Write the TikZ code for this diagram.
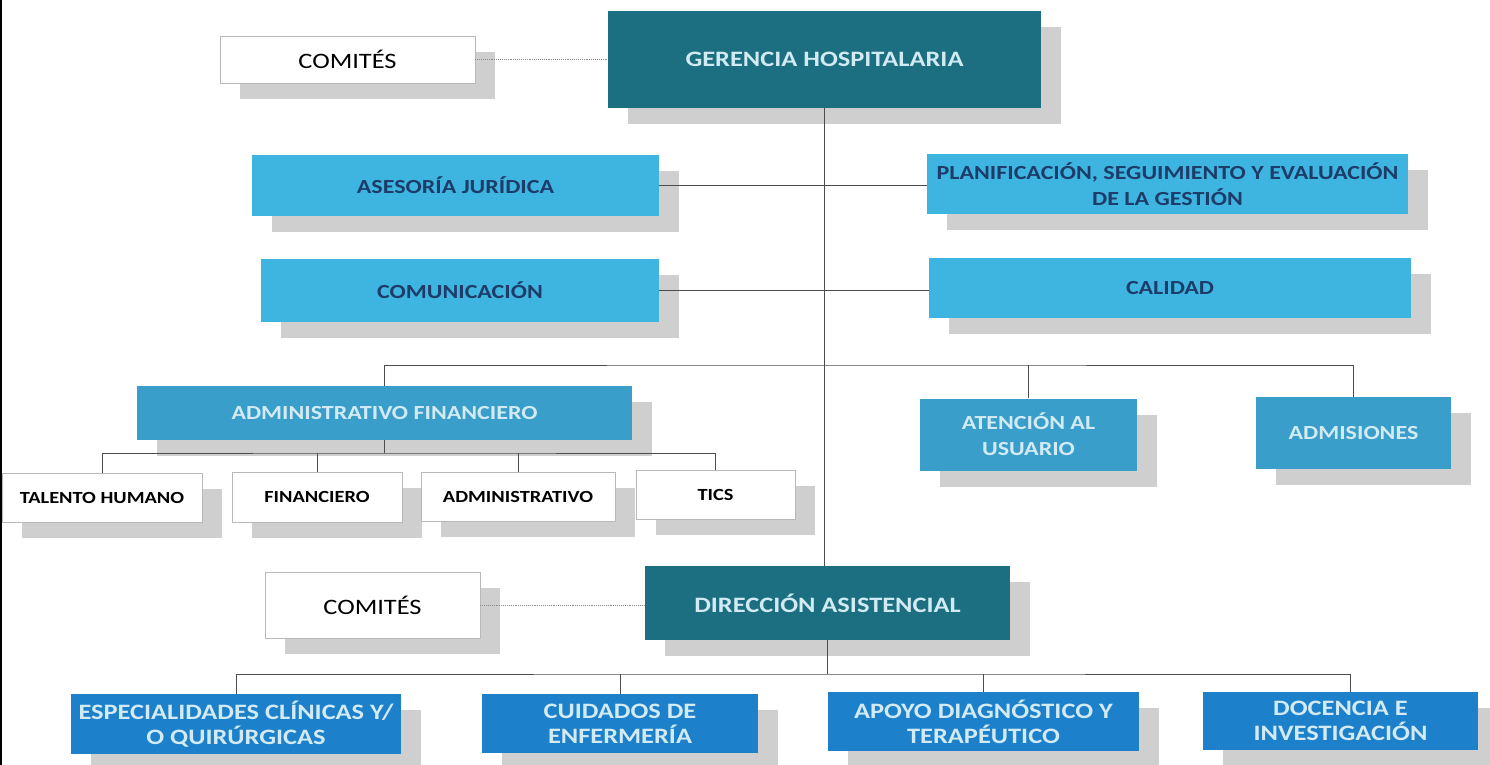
\documentclass[tikz,border=0pt]{standalone}
\usepackage{fontspec}
\setmainfont{Carlito}[FakeStretch=1.2]
\usetikzlibrary{shadows}
\definecolor{gerente}{HTML}{1B6F80}
\definecolor{celeste}{HTML}{3DB5E0}
\definecolor{azulmedio}{HTML}{3A9ECB}
\definecolor{azul}{HTML}{1D80CA}
\definecolor{textoclaro}{HTML}{D2EAF3}
\definecolor{textooscuro}{HTML}{1E3C6A}
\definecolor{sombra}{HTML}{CFCFCF}
\begin{document}
\begin{tikzpicture}[x=1pt,y=-1pt,
	caja/.style={rectangle,inner sep=0pt,align=center,font=\bfseries\fontsize{20}{26}\selectfont,
		drop shadow={shadow xshift=20pt,shadow yshift=-16pt,fill=sombra,opacity=1}},
	directiva/.style={caja,fill=gerente,text=textoclaro,font=\bfseries\fontsize{22}{26}\selectfont},
	asesora/.style={caja,fill=celeste,text=textooscuro},
	unidad/.style={caja,fill=azulmedio,text=textoclaro},
	operativa/.style={caja,fill=azul,text=textoclaro,font=\bfseries\fontsize{22}{25}\selectfont},
	blanca/.style={caja,fill=white,draw=gray!55,line width=0.6pt,text=black,font=\bfseries\fontsize{17}{20}\selectfont},
	comite/.style={blanca,font=\fontsize{22}{26}\selectfont},
	linea/.style={draw=black!70,line width=0.7pt},
	punteada/.style={draw=black!45,line width=0.9pt,densely dotted}]
	\fill[white] (0,0) rectangle (1490,765);
	\useasboundingbox (0,0) rectangle (1490,765);
	\draw[black,line width=1.5pt] (1,0)--(1,765);
	\node[comite,minimum width=255pt,minimum height=47pt] (com1) at (347.5,59.5) {COMITÉS};
	\node[directiva,minimum width=433pt,minimum height=97pt] (ger) at (824.5,59.5) {GERENCIA HOSPITALARIA};
	\node[asesora,minimum width=407pt,minimum height=61pt] (ase) at (455.5,185.5) {ASESORÍA JURÍDICA};
	\node[asesora,minimum width=481pt,minimum height=60pt] (pla) at (1167.5,184) {PLANIFICACIÓN, SEGUIMIENTO Y EVALUACIÓN\\DE LA GESTIÓN};
	\node[asesora,minimum width=398pt,minimum height=63pt] (comu) at (460,290.5) {COMUNICACIÓN};
	\node[asesora,minimum width=482pt,minimum height=60pt] (cal) at (1170,288) {CALIDAD};
	\node[unidad,minimum width=495pt,minimum height=54pt] (adf) at (384.5,413) {ADMINISTRATIVO FINANCIERO};
	\node[unidad,minimum width=217pt,minimum height=72pt] (ate) at (1028.5,434.5) {ATENCIÓN AL\\USUARIO};
	\node[unidad,minimum width=195pt,minimum height=72pt] (admi) at (1353.5,433) {ADMISIONES};
	\node[blanca,minimum width=200pt,minimum height=49pt] (tal) at (102,497.5) {TALENTO HUMANO};
	\node[blanca,minimum width=170pt,minimum height=50pt] (fin) at (317,497) {FINANCIERO};
	\node[blanca,minimum width=194pt,minimum height=49pt] (adm) at (518,496.5) {ADMINISTRATIVO};
	\node[blanca,minimum width=159pt,minimum height=49pt] (tic) at (715.5,494.5) {TICS};
	\node[comite,minimum width=215pt,minimum height=66pt] (com2) at (372.5,605) {COMITÉS};
	\node[directiva,minimum width=365pt,minimum height=74pt] (dir) at (827.5,603) {DIRECCIÓN ASISTENCIAL};
	\node[operativa,minimum width=330pt,minimum height=60pt] (esp) at (236,724) {ESPECIALIDADES CLÍNICAS Y/\\O QUIRÚRGICAS};
	\node[operativa,minimum width=276pt,minimum height=59pt] (cui) at (620,723.5) {CUIDADOS DE\\ENFERMERÍA};
	\node[operativa,minimum width=311pt,minimum height=59pt] (apo) at (983.5,721.5) {APOYO DIAGNÓSTICO Y\\TERAPÉUTICO};
	\node[operativa,minimum width=275pt,minimum height=58pt] (doc) at (1340.5,721) {DOCENCIA E\\INVESTIGACIÓN};
	\coordinate (busA) at (825,365);
	\coordinate (busB) at (400,453);
	\coordinate (busC) at (825,674);
	\draw[punteada] (com1.east)--(com1.east -| ger.west);
	\draw[punteada] (com2.east)--(com2.east -| dir.west);
	\draw[linea] (ger.south)--(ger.south |- dir.north);
	\draw[linea] (ase.east)--(ase.east -| pla.west);
	\draw[linea] (comu.east)--(comu.east -| cal.west);
	\draw[linea] (adf.north) |- (busA) -| (admi.north);
	\draw[linea] (busA -| ate.north)--(ate.north);
	\draw[linea] (adf.south)--(adf.south |- busB);
	\draw[linea] (tal.north) |- (busB) -| (tic.north);
	\draw[linea] (fin.north)--(fin.north |- busB);
	\draw[linea] (adm.north)--(adm.north |- busB);
	\draw[linea] (dir.south)--(dir.south |- busC);
	\draw[linea] (esp.north) |- (busC) -| ([xshift=10pt]doc.north);
	\draw[linea] (cui.north)--(cui.north |- busC);
	\draw[linea] (apo.north)--(apo.north |- busC);
\end{tikzpicture}
\end{document}
